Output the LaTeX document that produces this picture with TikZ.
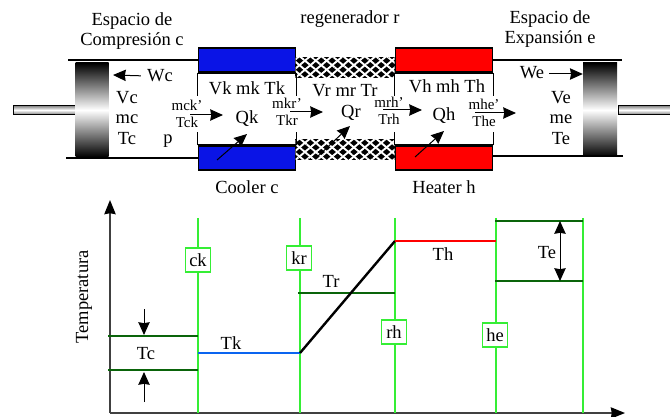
\documentclass[tikz,border=0pt]{standalone}
\usepackage{fontspec}
\setmainfont{Liberation Serif}
\usepackage{xcolor}
\usetikzlibrary{arrows.meta,patterns.meta}
\definecolor{coolblue}{HTML}{0A14E6}
\definecolor{tkblue}{HTML}{0A64F0}
\definecolor{darkgr}{HTML}{0A640A}
\definecolor{lightgr}{HTML}{35EE35}
\begin{document}
\begin{tikzpicture}[x=1pt,y=-1pt,
  t/.style={inner sep=0pt,align=center,font=\fontsize{18.5}{20.5}\selectfont},
  s/.style={inner sep=0pt,align=center,font=\fontsize{15}{16.5}\selectfont},
  wall/.style={line width=2pt},
  blk/.style={draw,line width=1.3pt,minimum width=97pt,minimum height=24pt,inner sep=0pt},
  reg/.style={draw,line width=1pt,fill=black,minimum width=99pt,minimum height=20pt,inner sep=0pt,
    postaction={pattern={Lines[angle=40,distance=7pt,line width=1.9pt]},pattern color=white},
    postaction={pattern={Lines[angle=-40,distance=7pt,line width=1.9pt]},pattern color=white}},
  piston/.style={minimum height=94pt,inner sep=0pt,top color=black,bottom color=black,middle color=white},
  rod/.style={draw,line width=1pt,minimum height=9pt,inner sep=0pt,top color=gray,bottom color=gray,middle color=white},
  ar/.style={-{Stealth[length=4.5mm,width=4mm,inset=1pt]},line width=1pt},
  ax/.style={-{Stealth[length=5mm,width=4mm,inset=1pt,black]},line width=1.4pt,black!75},
  sm/.style={line width=1pt},
  gl/.style={lightgr,line width=1.2pt},
  lv/.style={darkgr,line width=2.2pt},
  st/.style={t,draw=lightgr,line width=1.3pt,fill=white,minimum width=25pt,minimum height=24pt}]
\useasboundingbox (0,0) rectangle (670,417);
% cylinders
\node[rod,minimum width=62pt] (rodc) at (44,110) {};
\node[rod,minimum width=54pt] (rode) at (645,110) {};
\node[piston,minimum width=33pt] (pc) at (92,110) {};
\node[piston,minimum width=34pt] (pe) at (600,110) {};
\coordinate (cl1) at (68,60); \coordinate (cl2) at (66,158);
\coordinate (er1) at (622,60); \coordinate (er2) at (623,156);
\node[blk,fill=coolblue] (ct) at (247,60) {};
\node[blk,fill=coolblue] (cb) at (247,158) {};
\node[reg] (rt) at (345,68) {};
\node[reg] (rb) at (345,150) {};
\node[blk,fill=red] (ht) at (444,60) {};
\node[blk,fill=red] (hb) at (444,158) {};
\draw[wall] (cl1) -- (ct.west); \draw[wall] (cl2) -- (cl2 -| cb.west);
\draw[wall] (ht.east) -- (er1); \draw[wall] (er2) -- (er2 -| hb.east);
\draw[wall] (ct.south west) -- (ct.south east); \draw[wall] (cb.north west) -- (cb.north east);
\draw[wall] (ht.south west) -- (ht.south east); \draw[wall] (hb.north west) -- (hb.north east);
\draw[sm] (ct.south west) -- ++(0,23); \draw[sm] (ct.south east) -- ++(0,23);
\draw[sm] (cb.north west) -- ++(0,-13); \draw[sm] (cb.north east) -- ++(0,-13);
\draw[sm] (ht.south west) -- ++(0,23); \draw[sm] (ht.south east) -- ++(0,23);
\draw[sm] (hb.north west) -- ++(0,-13); \draw[sm] (hb.north east) -- ++(0,-13);
% labels
\node[t] (lc) at (132,31) {Espacio de\\Compresión c};
\node[t] (lr) at (350,19) {regenerador r};
\node[t] (le) at (550,29) {Espacio de\\Expansión e};
\node[t] (lk) at (247,187) {Cooler c};
\node[t] (lh) at (444,187) {Heater h};
\node[t] (wc) at (160,76) {Wc};
\node[t] (we) at (532,73) {We};
\node[t] (vc) at (127,118) {Vc\\mc\\Tc};
\node[t] (ve) at (561,118) {Ve\\me\\Te};
\node[t] (pp) at (168,141) {p};
\node[t] (vk) at (247,88) {Vk mk Tk};
\node[t] (vr) at (345,91) {Vr mr Tr};
\node[t] (vh) at (447,86) {Vh mh Th};
\node[s] (mck) at (187,114) {mck'\\Tck};
\node[s] (mkr) at (287,112) {mkr'\\Tkr};
\node[s] (mrh) at (389,111) {mrh'\\Trh};
\node[s] (mhe) at (484,113) {mhe'\\The};
\node[t] (qk) at (247,119) {Qk};
\node[t] (qr) at (351,113) {Qr};
\node[t] (qh) at (444,116) {Qh};
% arrows
\draw[ar,shorten <=6pt] (wc.west) -- (113,75);
\draw[ar] (549,74) -- (pe.west |- 0,74);
\coordinate (a1) at (190,115); \coordinate (a2) at (223,115);
\coordinate (a3) at (290,112); \coordinate (a4) at (323,112);
\coordinate (a5) at (383,110); \coordinate (a6) at (422,110);
\coordinate (a7) at (475,113); \coordinate (a8) at (516,113);
\draw[ar] (a1) -- (a2); \draw[ar] (a3) -- (a4); \draw[ar] (a5) -- (a6); \draw[ar] (a7) -- (a8);
\coordinate (h1) at (217,160); \coordinate (h2) at (247,134);
\coordinate (h3) at (316,158); \coordinate (h4) at (350,126);
\coordinate (h5) at (415,157); \coordinate (h6) at (444,131);
\draw[ar] (h1) -- (h2); \draw[ar] (h3) -- (h4); \draw[ar] (h5) -- (h6);
% chart
\coordinate (o) at (110,413);
\draw[ax] (o) -- (110,200);
\draw[ax] (o) -- (625,413);
\node[t,rotate=90] (temp) at (84,297) {Temperatura};
\foreach \n/\xx in {gck/198,gkr/300,grh/395,ghe/496,gend/583}
  \draw[gl] (\xx,218) coordinate (\n) -- (\xx,413);
\node[st] (ck) at (198,260) {ck};
\node[st] (kr) at (299,258) {kr};
\node[st] (rh) at (394,332) {rh};
\node[st] (he) at (495,335) {he};
\draw[lv] (108,336) coordinate (c1) -- (c1 -| gck);
\draw[lv] (108,370) coordinate (c2) -- (c2 -| gck);
\draw[lv] (298,293) coordinate (r1) -- (r1 -| grh);
\draw[lv] (495,221) coordinate (e1) -- (e1 -| gend);
\draw[lv] (495,281) coordinate (e2) -- (e2 -| gend);
\coordinate (k1) at (198,353); \coordinate (k2) at (300,353);
\coordinate (h7) at (395,241); \coordinate (h8) at (496,241);
\draw[tkblue,line width=2.4pt] (k1) -- (k2);
\draw[line width=2.4pt] (k2) -- (h7);
\draw[red,line width=2.4pt] (h7) -- (h8);
\node[t] (tc) at (146,354) {Tc};
\node[t] (tk) at (231,343) {Tk};
\node[t] (tr) at (331,281) {Tr};
\node[t] (th) at (443,254) {Th};
\node[t] (te) at (547,253) {Te};
\draw[ar] (144,309) -- (144,335);
\draw[ar] (144,402) -- (144,372);
\draw[line width=1pt,{Stealth[length=4.5mm,width=4mm,inset=1pt]}-{Stealth[length=4.5mm,width=4mm,inset=1pt]}] (560,221) -- (560,281);
\end{tikzpicture}
\end{document}
